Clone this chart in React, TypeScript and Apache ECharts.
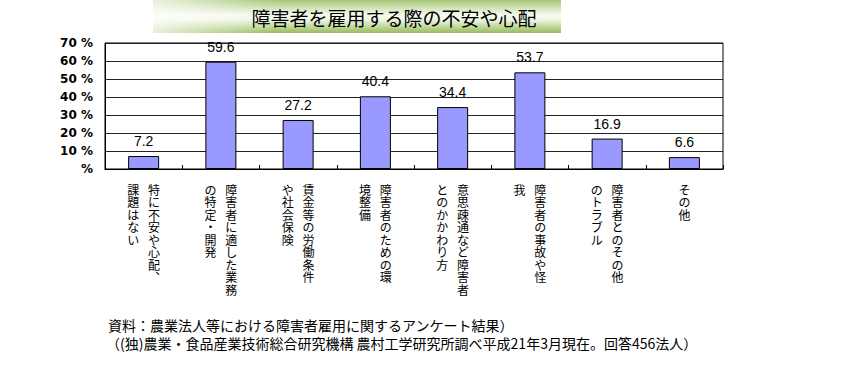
import React, { useEffect, useRef } from "react";
import * as echarts from "echarts";

const titleText = "障害者を雇用する際の不安や心配";
// Each category label as vertical columns: [first (right) column, second (left) column]
const labelColumns: string[][] = [
  ["特に不安や心配︑", "課題はない"],
  ["障害者に適した業務", "の特定・開発"],
  ["賃金等の労働条件", "や社会保険"],
  ["障害者のための環", "境整備"],
  ["意思疎通など障害者", "とのかかわり方"],
  ["障害者の事故や怪", "我"],
  ["障害者とのその他", "のトラブル"],
  ["その他"],
];
const categories = labelColumns.map((c) => c.join(""));
const values = [7.2, 59.6, 27.2, 40.4, 34.4, 53.7, 16.9, 6.6];
const yTicks = [0, 10, 20, 30, 40, 50, 60, 70];
const notes = [
  "資料：農業法人等における障害者雇用に関するアンケート結果）",
  "（(独)農業・食品産業技術総合研究機構 農村工学研究所調べ平成21年3月現在。回答456法人）",
];

const CJK = '"Noto Sans CJK JP", sans-serif';

function verticalLabel(idx: number): string {
  const cols = labelColumns[idx];
  if (!cols) return "";
  if (cols.length === 1) return Array.from(cols[0]).join("\n");
  const right = Array.from(cols[0]);
  const left = Array.from(cols[1]);
  const n = Math.max(right.length, left.length);
  const lines: string[] = [];
  for (let i = 0; i < n; i++) {
    lines.push((left[i] ?? "\u3000") + "\u2002 " + (right[i] ?? "\u3000"));
  }
  return lines.join("\n");
}

export default function App() {
  const ref = useRef<HTMLDivElement>(null);
  useEffect(() => {
    document.body.style.margin = "0";
    const chart = echarts.init(ref.current!, null, { renderer: "svg" });
    chart.setOption({
      animation: false,
      backgroundColor: "#fff",
      grid: {
        left: 105,
        right: 130,
        top: 43,
        height: 126,
        show: true,
        borderColor: "#000",
        borderWidth: 1,
      },
      xAxis: {
        type: "category",
        data: categories,
        axisLine: { show: true, lineStyle: { color: "#000", width: 1 } },
        axisTick: { show: true, inside: true, length: 4, lineStyle: { color: "#000" } },
        axisLabel: {
          interval: 0,
          margin: 14,
          fontSize: 12,
          lineHeight: 12.5,
          color: "#000",
          fontFamily: CJK,
          verticalAlign: "top",
          formatter: (_v: string, idx: number) => verticalLabel(idx),
        },
      },
      yAxis: {
        type: "value",
        min: yTicks[0],
        max: yTicks[yTicks.length - 1],
        interval: 10,
        axisLine: { show: true, lineStyle: { color: "#000" } },
        axisTick: { show: false },
        splitLine: { show: true, lineStyle: { color: "#222", width: 1 } },
        axisLabel: {
          margin: 12,
          fontSize: 12,
          fontWeight: "bold",
          color: "#000",
          fontFamily: "'DejaVu Sans', sans-serif",
          formatter: (v: number) => (v === 0 ? "%" : v + " %"),
        },
      },
      series: [
        {
          type: "bar",
          data: values,
          barWidth: 31,
          itemStyle: { color: "#9999ff", borderColor: "#000", borderWidth: 1 },
          label: {
            show: true,
            position: "top",
            distance: 8,
            fontSize: 14,
            color: "#000",
            fontFamily: "Arial, 'Liberation Sans', sans-serif",
            formatter: (p: any) => Number(p.value).toFixed(1),
          },
        },
      ],
      graphic: [
        {
          type: "rect",
          shape: { x: 153, y: 0, width: 408, height: 33 },
          style: {
            fill: new echarts.graphic.LinearGradient(0, 0, 0, 1, [
              { offset: 0, color: "#a8c878" },
              { offset: 0.45, color: "#f6faef" },
              { offset: 0.6, color: "#eef5e2" },
              { offset: 1, color: "#98bc5c" },
            ]),
          },
        },
        {
          type: "rect",
          shape: { x: 153, y: 0, width: 408, height: 33 },
          style: {
            fill: new echarts.graphic.LinearGradient(0, 0, 1, 0, [
              { offset: 0, color: "rgba(255,255,255,0.75)" },
              { offset: 0.3, color: "rgba(255,255,255,0)" },
              { offset: 1, color: "rgba(255,255,255,0)" },
            ]),
          },
        },
        {
          type: "text",
          x: 394,
          y: 17,
          style: {
            text: titleText,
            fontSize: 19,
            fontFamily: CJK,
            fill: "#000",
            align: "center",
            verticalAlign: "middle",
          },
        },
        {
          type: "text",
          x: 108,
          y: 325,
          style: {
            text: notes[0],
            fontSize: 14,
            fontFamily: CJK,
            fill: "#000",
            align: "left",
            verticalAlign: "middle",
          },
        },
        {
          type: "text",
          x: 106,
          y: 343,
          style: {
            text: notes[1],
            fontSize: 14,
            fontFamily: CJK,
            fill: "#000",
            align: "left",
            verticalAlign: "middle",
          },
        },
      ],
    });
    return () => chart.dispose();
  }, []);
  return (
    <div
      ref={ref}
      style={{ position: "absolute", left: 0, top: 0, width: 853, height: 366 }}
    />
  );
}
